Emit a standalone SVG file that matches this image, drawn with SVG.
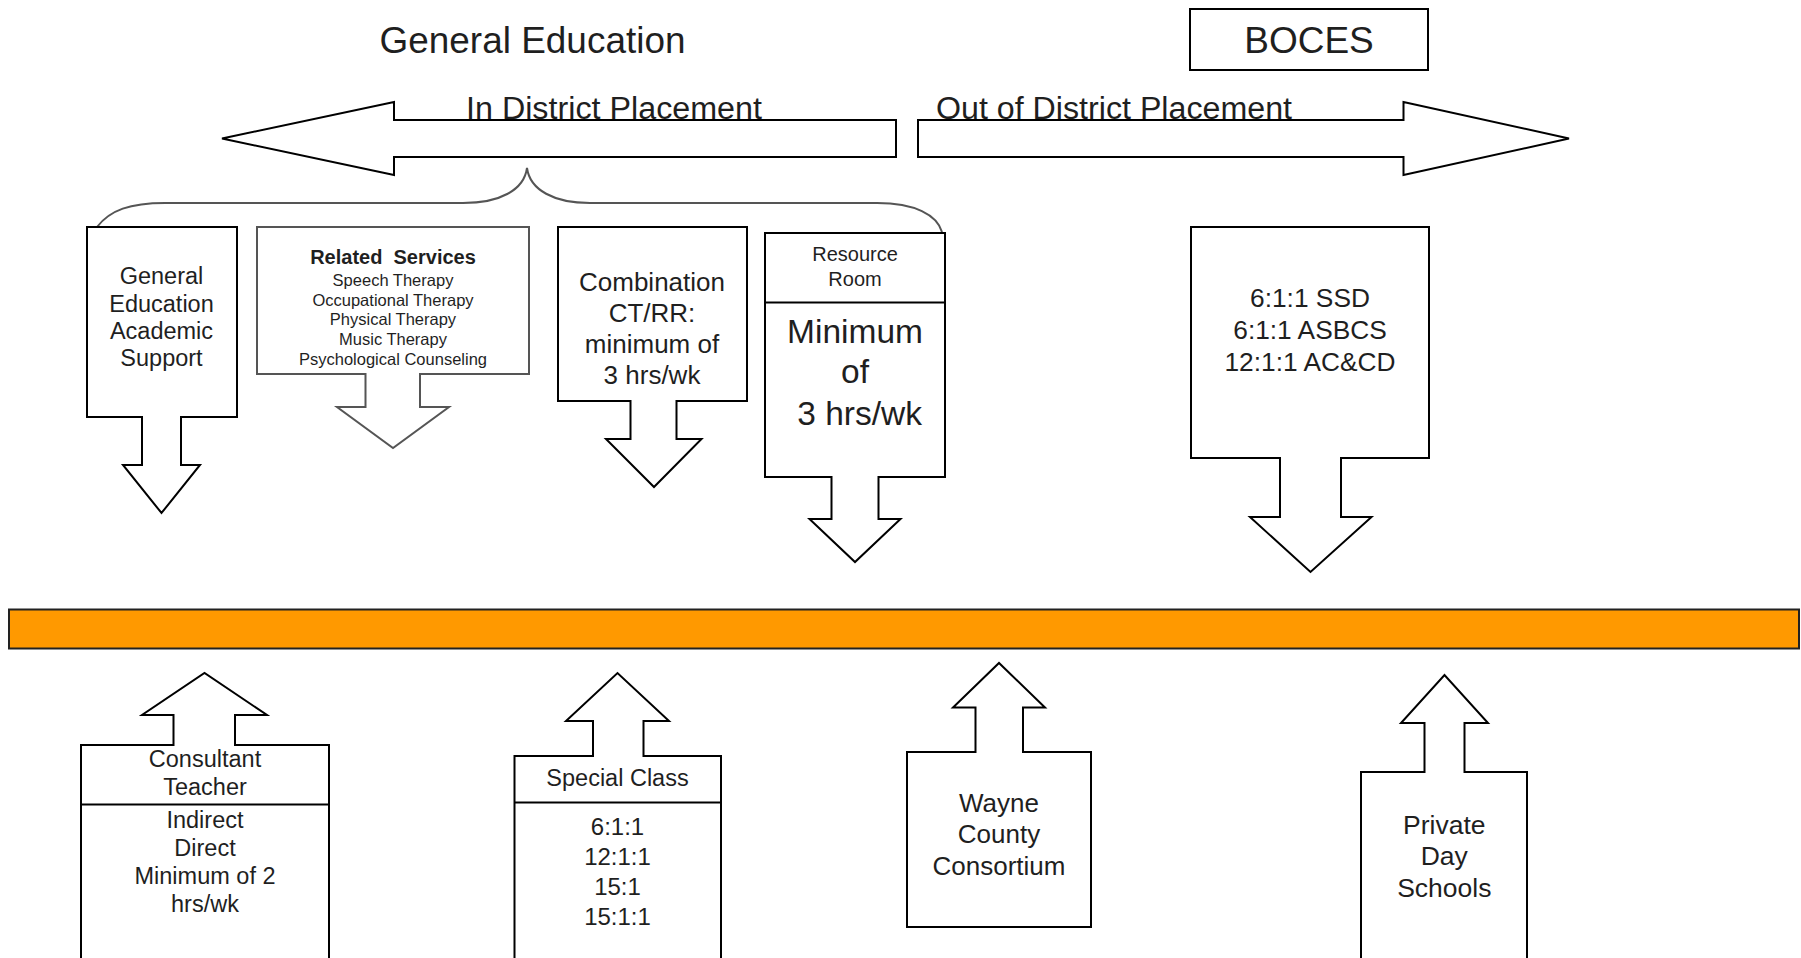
<svg xmlns="http://www.w3.org/2000/svg" width="1801" height="958" viewBox="0 0 1801 958">
<style>
.sh{fill:#fff;stroke:#000;stroke-width:2;stroke-linejoin:miter}
.gs{fill:#fff;stroke:#555;stroke-width:2}
.t{font-family:"Liberation Sans",Arial,sans-serif;fill:#1f1f1f;text-anchor:middle;white-space:pre}
.tl{font-family:"Liberation Sans",Arial,sans-serif;fill:#1f1f1f;white-space:pre}
.b{font-weight:bold}
</style>
<rect width="1801" height="958" fill="#fff"/>
<g id="connectors">
  <path id="brace" d="M97,227 C110,210 130,203 165,203 L463,203 C500,203 524,190 527,168 C530,190 554,203 590,203 L877,203 C915,203 937,215 942,232" fill="none" stroke="#555" stroke-width="2"/>
</g>
<g id="title-gen-ed"><text class="t" x="532.5" y="53" font-size="36.5" textLength="306" lengthAdjust="spacingAndGlyphs">General Education</text></g>
<g id="title-boces">
  <rect class="sh" x="1190" y="9" width="238" height="61"/>
  <text class="t" x="1309" y="53" font-size="37">BOCES</text>
</g>
<g id="arrow-in-district">
  <path class="sh" d="M222,138.5 L394,102 V120 H896 V157 H394 V175 Z"/>
  <text class="tl" x="466" y="118.5" font-size="31" textLength="296" lengthAdjust="spacingAndGlyphs">In District Placement</text>
</g>
<g id="arrow-out-district">
  <path class="sh" d="M918,120 H1403.5 V102 L1569,138.5 L1403.5,175 V157 H918 Z"/>
  <text class="tl" x="936" y="118.5" font-size="31" textLength="356" lengthAdjust="spacingAndGlyphs">Out of District Placement</text>
</g>
<g id="node-gen-ed-support">
  <path class="sh" d="M87,227 H237 V417 H181 V465 H200 L161.5,513 L123,465 H142 V417 H87 Z"/>
  <text class="t" x="161.5" font-size="23.5"><tspan x="161.5" y="284">General</tspan><tspan x="161.5" y="311.5">Education</tspan><tspan x="161.5" y="339">Academic</tspan><tspan x="161.5" y="366">Support</tspan></text>
</g>
<g id="node-related-services">
  <path class="gs" d="M257,227 H529 V374 H420 V407 H449 L393,448 L337,407 H365.5 V374 H257 Z"/>
  <text class="t b" x="393" y="264" font-size="20">Related  Services</text>
  <text class="t" x="393" font-size="16.5" fill="#333"><tspan x="393" y="286">Speech Therapy</tspan><tspan x="393" y="305.7">Occupational Therapy</tspan><tspan x="393" y="325.4">Physical Therapy</tspan><tspan x="393" y="345">Music Therapy</tspan><tspan x="393" y="364.7">Psychological Counseling</tspan></text>
</g>
<g id="node-combination">
  <path class="sh" d="M558,227 H747 V401 H676.5 V439 H701.5 L654,487 L606,439 H630.5 V401 H558 Z"/>
  <text class="t" x="652" font-size="26"><tspan x="652" y="291">Combination</tspan><tspan x="652" y="322">CT/RR:</tspan><tspan x="652" y="353">minimum of</tspan><tspan x="652" y="384">3 hrs/wk</tspan></text>
</g>
<g id="node-resource-room">
  <path class="sh" d="M765,233 H945 V477 H878.5 V519 H900.5 L855,562 L809.5,519 H831.5 V477 H765 Z"/>
  <line x1="765" y1="302.5" x2="945" y2="302.5" stroke="#000" stroke-width="2"/>
  <text class="t" x="855" font-size="20"><tspan x="855" y="260.7">Resource</tspan><tspan x="855" y="286">Room</tspan></text>
  <text class="t" x="855" font-size="33.5"><tspan x="855" y="342.7">Minimum</tspan><tspan x="855" y="383.3">of</tspan><tspan x="855" y="425"> 3 hrs/wk</tspan></text>
</g>
<g id="node-boces-programs">
  <path class="sh" d="M1191,227 H1429 V458 H1341 V517 H1371.5 L1310.5,572 L1250,517 H1280 V458 H1191 Z"/>
  <text class="t" x="1310" font-size="26.3"><tspan x="1310" y="307.3">6:1:1 SSD</tspan><tspan x="1310" y="339.3">6:1:1 ASBCS</tspan><tspan x="1310" y="370.5">12:1:1 AC&amp;CD</tspan></text>
</g>
<g id="bar"><rect x="9" y="609.5" width="1790" height="39" fill="#FF9900" stroke="#222" stroke-width="2"/></g>
<g id="node-consultant-teacher">
  <path class="sh" d="M81,975 V745 H173.5 V715 H142 L204.5,673 L267,715 H235 V745 H329 V975 Z"/>
  <line x1="81" y1="804.5" x2="329" y2="804.5" stroke="#000" stroke-width="2"/>
  <text class="t" x="205" font-size="23.5"><tspan x="205" y="767.3">Consultant</tspan><tspan x="205" y="795">Teacher</tspan></text>
  <text class="t" x="205" font-size="23.5"><tspan x="205" y="828.3">Indirect</tspan><tspan x="205" y="856">Direct</tspan><tspan x="205" y="884">Minimum of 2</tspan><tspan x="205" y="911.7">hrs/wk</tspan></text>
</g>
<g id="node-special-class">
  <path class="sh" d="M514.5,975 V756 H593 V721 H566 L617.5,673 L669,721 H643.5 V756 H721 V975 Z"/>
  <line x1="514.5" y1="802.5" x2="721" y2="802.5" stroke="#000" stroke-width="2"/>
  <text class="t" x="617.5" y="786" font-size="23.5">Special Class</text>
  <text class="t" x="617.5" font-size="24"><tspan x="617.5" y="834.5">6:1:1</tspan><tspan x="617.5" y="864.5">12:1:1</tspan><tspan x="617.5" y="894.5">15:1</tspan><tspan x="617.5" y="924.5">15:1:1</tspan></text>
</g>
<g id="node-wayne-county">
  <path class="sh" d="M907,927 V752 H975.5 V707.5 H953 L999,663 L1045,707.5 H1023 V752 H1091 V927 Z"/>
  <text class="t" x="999" font-size="26"><tspan x="999" y="812">Wayne</tspan><tspan x="999" y="843">County</tspan><tspan x="999" y="874.5">Consortium</tspan></text>
</g>
<g id="node-private-day">
  <path class="sh" d="M1361,975 V772 H1424.5 V723 H1401 L1444.5,675 L1488,723 H1464.5 V772 H1527 V975 Z" stroke="#333"/>
  <text class="t" x="1444.3" font-size="26.5"><tspan x="1444.3" y="834.3">Private</tspan><tspan x="1444.3" y="865">Day</tspan><tspan x="1444.3" y="896.7">Schools</tspan></text>
</g>
</svg>
